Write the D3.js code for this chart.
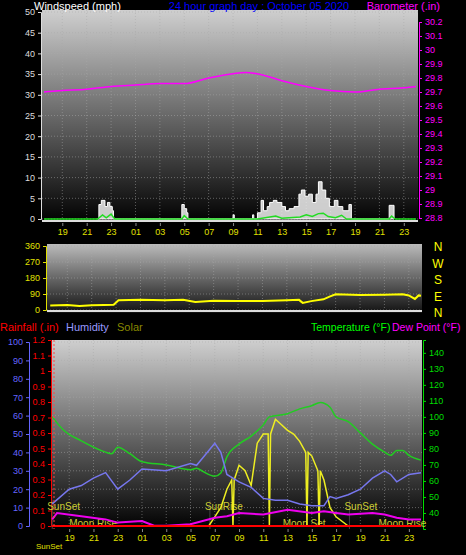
<!DOCTYPE html>
<html><head><meta charset="utf-8">
<script src="https://cdn.jsdelivr.net/npm/d3@7"></script>
<style>body{margin:0;background:#000}svg{display:block;font-family:"Liberation Sans",Arial,sans-serif}</style>
</head><body><svg id="c" width="466" height="555"></svg>
<script>
// hours counted from midnight of previous day (24 = 00 of Oct 05)
const xTicks = [19,21,23,25,27,29,31,33,35,37,39,41,43,45,47]
const baroT = [17.5,19,21,23,25,27,29,31,33,34,35.5,37,39,41,43,45,47,48]
const baroV = [29.70,29.71,29.72,29.74,29.75,29.76,29.76,29.80,29.83,29.84,29.82,29.78,29.74,29.71,29.70,29.72,29.73,29.74]
const gustT = [21.9,22.0,22.2,22.5,22.7,22.9,23.1,23.2,28.7,28.8,29.0,29.2,29.3,33.0,33.1,34.6,34.7,35.0,35.3,35.5,35.8,36.0,36.3,36.6,37.0,37.3,37.6,38.0,38.4,38.6,38.9,39.2,39.5,39.8,40.0,40.3,40.6,40.9,41.3,41.6,42.0,42.5,42.7,45.7,45.8,46.1,46.2]
const gustV = [0,3.5,4.5,3,4,3,2,0,0,3.5,2.5,1.5,0,1,0,1,0,1.5,4.5,2,3,4,4.5,4,3,2,2.5,3,6,7,5.5,6,4,6,9,7,5,3,4.5,3,2,3.5,0,0,3.3,3.3,0]
const avgT = [17.5,21.9,22.3,22.6,23,23.3,28.8,29,29.3,35,36.5,37,38.5,39,39.5,40,40.4,40.8,41.4,41.9,42.3,45.8,46,46.3,48]
const avgV = [0,0,1,0.3,1.2,0,0,0.8,0,0,0.7,0.2,0.5,1,0.6,1.3,1.4,0.6,0.3,0.9,0,0,0.7,0,0]
const dirT = [17.6,19,20,21,22,22.8,23.2,25,27,28.5,29.5,31,33,35,37,38,38.3,39,40,40.5,41,43,45,46.5,47,47.5,47.8,48]
const dirV = [25,28,22,27,28,30,55,57,55,58,45,52,50,50,55,57,40,50,60,75,88,85,86,88,82,62,82,80]
const tempT = [17.6,18.5,20,22,22.5,23,24,25,27,29,29.5,30,31,31.5,32,33,34,35,35.5,37,38,39,39.7,40.5,41,42,43,44,45,45.5,46,46.5,47,48]
const tempV = [100,92,85,78,77,81,77,72,70,67,68,66,63,65,75,83,88,95,100,102,105,107,109,106,100,97,90,83,78,76,79,79,76,73]
const humT = [17.6,19,20,21,22,23,24,25,27,29,29.5,30,31,31.5,32,33,34,35,36,37,38,39,40,40.5,41,42,43,44,45,45.5,46,47,48]
const humV = [12,20,22,26,29,20,25,31,30,34,33,37,45,40,28,24,21,15,14,14,12,11,11,16,15,17,20,26,30,28,24,28,29]
const dewT = [17.6,18,20,22,23,25,26,27,29,31,32,33,35,37,39,40,41,42,44,45,46,47,48]
const dewV = [36,40,38,36,34,35,32,32,33,37,38,40,39,42,40,41,40,39,40,39,37,36,36]
const solT = [30.5,31,31.5,32,32.4,32.5,32.6,33,33.5,34,34.5,35,35.4,35.5,35.6,36,36.5,37,37.5,38,38.5,38.6,38.7,39,39.5,39.6,39.7,40,40.5,41,42]
const solV = [0,5,10,20,25,0,25,33,30,22,45,50,50,0,50,58,55,52,50,46,40,0,40,38,30,0,30,25,10,5,0]
const markers = [{t:17.6,lab:"SunSet"},{t:30.6,lab:"SunRise"},{t:42.1,lab:"SunSet"}]
const moon = [{t:19,lab:"Moon Rise"},{t:36.6,lab:"Moon Set"},{t:44.5,lab:"Moon Rise"}]
const baroTicks = [28.8,28.9,29,29.1,29.2,29.3,29.4,29.5,29.6,29.7,29.8,29.9,30,30.1,30.2]

const svg = d3.select("#c")
const fmtH = h => d3.format("02")(h % 24)

function panel(id, x0, x1, y0, y1, top, bot){
  const g = svg.append("defs").append("linearGradient").attr("id", id).attr("x1",0).attr("x2",0).attr("y1",0).attr("y2",1)
  g.append("stop").attr("offset","0%").attr("stop-color", top)
  g.append("stop").attr("offset","100%").attr("stop-color", bot)
  svg.append("rect").attr("x",x0).attr("y",y0).attr("width",x1-x0).attr("height",y1-y0).attr("fill","url(#"+id+")")
}
function grid(x, yList, ys, x0, x1, y0, y1){
  xTicks.forEach(t => svg.append("line").attr("x1",x(t)).attr("x2",x(t)).attr("y1",y0).attr("y2",y1)
    .attr("stroke","#aaa").attr("stroke-opacity",0.5).attr("stroke-dasharray","1,2"))
  yList.forEach(v => svg.append("line").attr("x1",x0).attr("x2",x1).attr("y1",ys(v)).attr("y2",ys(v))
    .attr("stroke","#aaa").attr("stroke-opacity",0.5).attr("stroke-dasharray","1,2"))
}
function txt(x, y, s, col, size, anchor){
  return svg.append("text").attr("x",x).attr("y",y).text(s).attr("fill",col)
    .attr("font-size",size||12).attr("text-anchor",anchor||"start")
}
function leftAxis(scale, x, ticks, col, fmt){
  const a = svg.append("g").attr("transform",`translate(${x},0)`)
    .call(d3.axisLeft(scale).tickValues(ticks).tickSize(3).tickFormat(fmt||(d=>d)))
  a.selectAll("text").attr("fill",col).attr("font-size",9)
  a.selectAll("line,path").attr("stroke",col)
  return a
}
function rightAxis(scale, x, ticks, col, fmt){
  const a = svg.append("g").attr("transform",`translate(${x},0)`)
    .call(d3.axisRight(scale).tickValues(ticks).tickSize(3).tickFormat(fmt||(d=>d)))
  a.selectAll("text").attr("fill",col).attr("font-size",9)
  a.selectAll("line,path").attr("stroke",col)
  return a
}
function timeAxis(x, y){
  const a = svg.append("g").attr("transform",`translate(0,${y})`)
    .call(d3.axisBottom(x).tickValues(xTicks).tickSize(3).tickFormat(fmtH))
  a.selectAll("text").attr("fill","#e0e000").attr("font-size",9)
  a.selectAll("line").attr("stroke","#888")
  a.select("path").remove()
}
const zip = (T,V) => T.map((t,i)=>[t,V[i]])

// ---- top panel: wind + barometer
const xT = d3.scaleLinear().domain([17.5,48]).range([44,416])
const yW = d3.scaleLinear().domain([0,50]).range([219,12])
const yB = d3.scaleLinear().domain([28.8,30.2]).range([218,22])
panel("g1",42,418,10,223,"#cfcfcf","#000")
grid(xT, d3.range(0,51,5), yW, 42, 418, 10, 223)
leftAxis(yW, 41, d3.range(0,51,5), "#ddd")
rightAxis(yB, 419, baroTicks, "#ff00ff", d3.format("~g"))
timeAxis(xT, 223)
svg.append("line").attr("x1",42).attr("x2",418).attr("y1",221).attr("y2",221).attr("stroke","#ddd").attr("stroke-width",2)
svg.append("path").datum(zip(gustT,gustV)).attr("fill","#f0f0f0").attr("fill-opacity",0.85).attr("stroke","#fff")
  .attr("d", d3.area().curve(d3.curveStepAfter).x(d=>xT(d[0])).y0(yW(0)).y1(d=>yW(d[1])))
svg.append("path").datum(zip(avgT,avgV)).attr("fill","none").attr("stroke","#22dd22").attr("stroke-width",1.5)
  .attr("d", d3.line().x(d=>xT(d[0])).y(d=>yW(d[1])))
svg.append("path").datum(zip(baroT,baroV)).attr("fill","none").attr("stroke","#ff00ff").attr("stroke-width",1.5)
  .attr("d", d3.line().curve(d3.curveMonotoneX).x(d=>xT(d[0])).y(d=>yB(d[1])))
txt(34,10,"Windspeed (mph)","#fff",11)
txt(259,10,"24 hour graph day : October 05 2020","#0000ff",11,"middle")
txt(440,10,"Barometer (.in)","#ff00ff",11,"end")

// ---- middle panel: wind direction
const xM = d3.scaleLinear().domain([17.5,48]).range([49,421])
const yD = d3.scaleLinear().domain([0,360]).range([310,246])
panel("g2",47,422,244,313,"#bbb","#111")
grid(xM, [0,90,180,270,360], yD, 47, 422, 244, 313)
leftAxis(yD, 46, [0,90,180,270,360], "#e0e000")
svg.append("line").attr("x1",47).attr("x2",422).attr("y1",311).attr("y2",311).attr("stroke","#ddd").attr("stroke-width",2)
svg.append("path").datum(zip(dirT,dirV)).attr("fill","none").attr("stroke","#ffff00").attr("stroke-width",2)
  .attr("d", d3.line().x(d=>xM(d[0])).y(d=>yD(d[1])))
;["N","W","S","E","N"].forEach((s,i)=>txt(438,251+i*16.5,s,"#ffff00",12,"middle"))

// ---- legend row
txt(0,331,"Rainfall (.in)","#ff0000",11)
txt(66,331,"Humidity","#9999ff",11)
txt(117,331,"Solar","#888800",11)
txt(311,331,"Temperature (°F)","#00ff00",10.5)
txt(392,331,"Dew Point (°F)","#ff00ff",10.5)

// ---- bottom panel
const xB = d3.scaleLinear().domain([17.5,48]).range([51,421])
const yH = d3.scaleLinear().domain([0,100]).range([526,342])
const yR = d3.scaleLinear().domain([0,1.2]).range([526,340])
const yT = d3.scaleLinear().domain([30,148]).range([529,340])
const yS = d3.scaleLinear().domain([0,100]).range([526,342])
panel("g3",52,422,340,529,"#cfcfcf","#000")
grid(xB, d3.range(0,101,10), yH, 52, 422, 340, 529)
leftAxis(yH, 29, d3.range(0,101,10), "#6666ff")
leftAxis(yR, 51, d3.range(0,1.21,0.1), "#ff0000", d3.format("~g"))
rightAxis(yT, 423, d3.range(40,141,10), "#00dd00")
timeAxis(xB, 529)
markers.forEach(m=>{
  svg.append("line").attr("x1",xB(m.t)).attr("x2",xB(m.t)).attr("y1",yH(14)).attr("y2",529).attr("stroke","#444")
  txt(xB(m.t)-5,510,m.lab,"#cccc33",10)
})
moon.forEach(m=>txt(xB(m.t),527,m.lab,"#cccc33",10))
txt(36,549,"SunSet","#e0e000",8)
svg.append("path").datum(zip(solT,solV)).attr("fill","none").attr("stroke","#eeee22").attr("stroke-width",1.5)
  .attr("d", d3.line().x(d=>xB(d[0])).y(d=>yS(d[1])))
svg.append("path").datum(zip(tempT,tempV)).attr("fill","none").attr("stroke","#22cc22").attr("stroke-width",1.5)
  .attr("d", d3.line().curve(d3.curveMonotoneX).x(d=>xB(d[0])).y(d=>yT(d[1])))
svg.append("path").datum(zip(humT,humV)).attr("fill","none").attr("stroke","#7777ee").attr("stroke-width",1.5)
  .attr("d", d3.line().x(d=>xB(d[0])).y(d=>yH(d[1])))
svg.append("path").datum(zip(dewT,dewV)).attr("fill","none").attr("stroke","#ee00ee").attr("stroke-width",2)
  .attr("d", d3.line().x(d=>xB(d[0])).y(d=>yT(d[1])))
svg.append("line").attr("x1",52).attr("x2",421).attr("y1",yR(0)).attr("y2",yR(0)).attr("stroke","#ff0000").attr("stroke-width",2)
svg.append("line").attr("x1",54).attr("x2",54).attr("y1",340).attr("y2",529).attr("stroke","#ff4444").attr("stroke-dasharray","2,2")
</script></body></html>
